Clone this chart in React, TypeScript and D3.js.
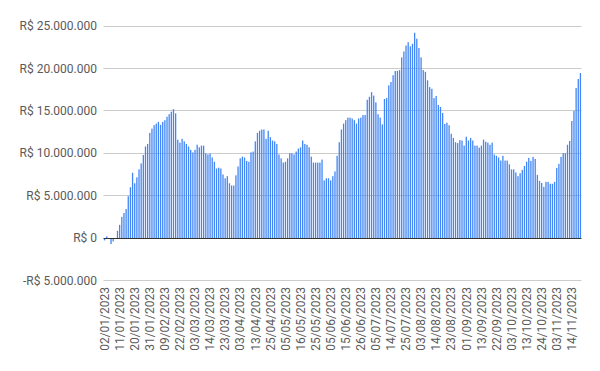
import React from "react";
import * as d3 from "d3";

// Daily values (millions of R$), business days from 02/01/2023 to 21/11/2023
const valuesMillions: number[] = [
  -0.27, 0.2, 0, -0.7, -0.4, 0, 0.86, 1.56, 2.5, 2.96,
  3.42, 4.94, 6.0, 7.7, 6.46, 7.16, 8.1, 8.8, 9.8, 10.8,
  11.1, 12.4, 12.9, 13.3, 13.5, 13.7, 13.35, 13.7, 13.9, 14.3,
  14.6, 14.9, 15.2, 14.7, 11.6, 11.25, 11.7, 11.4, 11.1, 10.8,
  10.4, 10.1, 10.4, 11.0, 10.7, 10.9, 10.9, 10.0, 9.85, 9.96,
  9.5, 9.0, 8.2, 8.3, 8.2, 7.5, 7.05, 7.3, 6.46, 6.2,
  6.2, 7.4, 8.44, 9.4, 9.6, 9.5, 9.1, 9.0, 10.1, 10.2,
  11.4, 12.4, 12.65, 12.8, 12.8, 11.7, 12.65, 11.9, 11.5, 11.4,
  11.1, 9.85, 9.4, 8.9, 9.0, 9.4, 10.0, 10.0, 9.85, 10.2,
  10.55, 10.7, 11.5, 11.1, 11.0, 10.7, 9.6, 8.9, 8.9, 8.9,
  8.9, 9.26, 6.8, 7.05, 7.05, 6.8, 7.3, 7.86, 9.7, 11.3,
  12.8, 13.5, 13.9, 14.2, 14.2, 14.1, 13.9, 13.5, 14.1, 14.2,
  14.5, 14.5, 16.3, 16.65, 17.2, 16.8, 16.0, 14.6, 14.2, 13.4,
  16.4, 16.5, 18.0, 18.4, 19.2, 19.7, 19.7, 19.8, 21.3, 22.0,
  22.7, 23.1, 22.6, 22.9, 24.2, 23.5, 22.4, 21.3, 19.8, 19.6,
  18.6, 17.8, 17.6, 16.5, 16.75, 15.7, 15.45, 14.75, 13.45, 13.6,
  13.3, 12.3, 11.8, 11.3, 11.2, 11.55, 11.5, 10.9, 11.95, 11.5,
  11.8, 11.5, 10.9, 10.9, 10.66, 10.9, 11.6, 11.36, 11.25, 11.0,
  11.25, 9.85, 9.7, 9.5, 9.14, 9.7, 9.14, 9.14, 8.7, 8.1,
  8.1, 7.74, 7.3, 7.65, 8.04, 8.5, 9.0, 9.45, 9.1, 9.57,
  9.33, 7.45, 6.75, 6.5, 6.04, 6.63, 6.63, 6.4, 6.4, 6.63,
  8.27, 8.75, 9.57, 10.0, 10.0, 11.0, 11.45, 13.8, 15.0, 17.7,
  18.75, 19.45,
];

// One label every 7 business days, starting with the first bar
const tickLabels: string[] = [
  "02/01/2023", "11/01/2023", "20/01/2023", "31/01/2023", "09/02/2023",
  "22/02/2023", "03/03/2023", "14/03/2023", "23/03/2023", "03/04/2023",
  "13/04/2023", "25/04/2023", "05/05/2023", "16/05/2023", "25/05/2023",
  "05/06/2023", "15/06/2023", "26/06/2023", "05/07/2023", "14/07/2023",
  "25/07/2023", "03/08/2023", "14/08/2023", "23/08/2023", "01/09/2023",
  "13/09/2023", "22/09/2023", "03/10/2023", "13/10/2023", "24/10/2023",
  "03/11/2023", "14/11/2023",
];
const tickEvery = 7;

const yTicks: number[] = [-5e6, 0, 5e6, 10e6, 15e6, 20e6, 25e6];

const W = 600;
const H = 371;

const ptBR = d3.formatLocale({
  decimal: ",",
  thousands: ".",
  grouping: [3],
  currency: ["R$ ", ""],
  minus: "-",
});
const fmt = ptBR.format("$,.0f");

export default function App() {
  const n = valuesMillions.length;
  const x = d3
    .scaleBand<number>()
    .domain(d3.range(n))
    .range([103.5, 581.5])
    .paddingInner(0.4)
    .paddingOuter(0.2);
  const y = d3.scaleLinear().domain([-5e6, 25e6]).range([280.5, 26]);
  const snap = (v: number) => Math.floor(v) + 0.5;
  const font = "Roboto, Arial, sans-serif";
  const textColor = "#5a5a5a";

  return (
    <svg
      width={W}
      height={H}
      style={{ position: "absolute", left: 0, top: 0, display: "block", background: "#fff" }}
    >
      {/* gridlines */}
      {yTicks.map((t) =>
        t === 0 ? null : (
          <line
            key={"g" + t}
            x1={103.5}
            x2={581.5}
            y1={snap(y(t))}
            y2={snap(y(t))}
            stroke="#cccccc"
            strokeWidth={1}
          />
        )
      )}
      {/* bars */}
      {valuesMillions.map((v, i) => {
        const val = v * 1e6;
        const y0 = y(0);
        const y1 = y(val);
        return (
          <rect
            key={"b" + i}
            x={x(i)!}
            width={x.bandwidth()}
            y={Math.min(y0, y1)}
            height={Math.abs(y1 - y0)}
            fill="#4285f4"
          />
        );
      })}
      {/* baseline */}
      <line x1={103.5} x2={581.5} y1={snap(y(0))} y2={snap(y(0))} stroke="#333333" strokeWidth={1} />
      {/* y labels */}
      {yTicks.map((t) => (
        <text
          key={"yl" + t}
          x={97}
          y={y(t)}
          dy="0.35em"
          textAnchor="end"
          fontFamily={font}
          fontSize={12}
          fill={textColor}
        >
          {fmt(t)}
        </text>
      ))}
      {/* x labels */}
      {tickLabels.map((lab, k) => {
        const i = k * tickEvery;
        const cx = x(i)! + x.bandwidth() / 2;
        return (
          <text
            key={"xl" + k}
            transform={`translate(${cx},287) rotate(-90)`}
            dy="0.35em"
            textAnchor="end"
            fontFamily={font}
            fontSize={12}
            fill={textColor}
          >
            {lab}
          </text>
        );
      })}
    </svg>
  );
}
